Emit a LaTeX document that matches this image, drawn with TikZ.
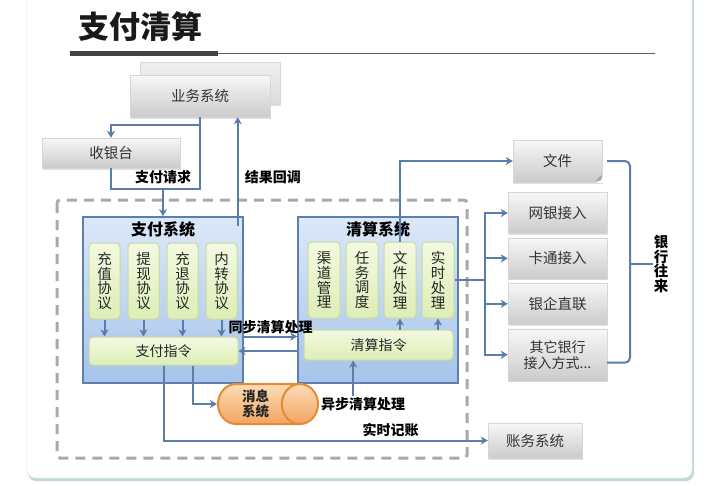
\documentclass[tikz,border=0pt]{standalone}
\usepackage{fontspec}
\setmainfont{Noto Sans CJK SC}
\usetikzlibrary{shapes.geometric, arrows.meta, positioning, shadows}
\definecolor{linkblue}{HTML}{5A7DAA}
\definecolor{systop}{HTML}{DCE8F8}
\definecolor{sysbot}{HTML}{A6C3EA}
\definecolor{sysline}{HTML}{5B80B0}
\definecolor{prototop}{HTML}{F3F9E2}
\definecolor{protobot}{HTML}{DDEEB6}
\definecolor{protoline}{HTML}{C7DC9E}
\definecolor{greytop}{HTML}{F7F7F7}
\definecolor{greybot}{HTML}{CBCBCB}
\definecolor{greyline}{HTML}{D6D6D6}
\definecolor{orangetop}{HTML}{FCDDB8}
\definecolor{orangebot}{HTML}{F2A460}
\definecolor{orangeline}{HTML}{E68A35}
\definecolor{dashgrey}{HTML}{A9A9A9}
\definecolor{titlebar}{HTML}{444444}
\definecolor{cardshadow}{HTML}{C3D8D8}

\begin{document}
\begin{tikzpicture}[
    x=1pt, y=-1pt,
    arrow/.style={-{Stealth[length=7pt,width=8pt,inset=2pt]}, line width=2pt, linkblue},
    line/.style={line width=2pt, linkblue},
    lbl/.style={font=\fontsize{14}{16}\selectfont\bfseries, text=black, inner sep=1pt},
    greybox/.style={rectangle, top color=greytop, bottom color=greybot, draw=greyline, text=black!80, font=\fontsize{14.5}{17}\selectfont, align=center, drop shadow={shadow xshift=1pt, shadow yshift=-1.5pt, opacity=.25}},
    sysbox/.style={rectangle, top color=systop, bottom color=sysbot, draw=sysline, line width=1.5pt, minimum width=160, minimum height=166},
    proto/.style={rectangle, rounded corners=4pt, top color=prototop, bottom color=protobot, draw=protoline, line width=1pt, inner sep=0pt, minimum width=31, minimum height=76, align=center, text=black!85, font=\fontsize{14.5}{14.8}\selectfont},
    cmdbox/.style={rectangle, rounded corners=4pt, top color=prototop, bottom color=protobot, draw=protoline, line width=1pt, text=black!85, font=\fontsize{14}{16}\selectfont},
    queue/.style={cylinder, aspect=1.2, draw=orangeline, line width=2pt, top color=orangetop, bottom color=orangebot, minimum width=40, minimum height=100, inner sep=1pt, align=center, text=black!85, font=\fontsize{13.5}{15}\selectfont\bfseries},
    frame/.style={dashgrey, line width=3pt, dash pattern=on 10pt off 7pt, rounded corners=3pt}
]
\useasboundingbox (0,0) rectangle (709,485);

% card
\fill[cardshadow, rounded corners=8] (28,-10) rectangle (694,481);
\filldraw[fill=white, draw=black!12, rounded corners=8] (27,-10) rectangle (692,478);

% title
\node[font=\fontsize{31}{33}\selectfont\bfseries, text=black!90] (title) at (140,27) {支付清算};
\draw[line width=5pt, titlebar] (70,53) -- (218,53);
\draw[line width=1pt, titlebar!85] (218,53) -- (655,53);

\draw[frame] (57,200) rectangle (467,458);

% outside systems
\node[greybox, top color=black!6, bottom color=black!14, minimum width=140, minimum height=42] (bizcopy) at (210,83) {};
\node[greybox, minimum width=140, minimum height=42] (biz) at (200,96) {业务系统};
\node[greybox, minimum width=138, minimum height=30] (cashier) at (111,153) {收银台};

% payment system
\node[sysbox, label={[anchor=north, yshift=-2pt, font=\fontsize{16}{18}\selectfont\bfseries]north:支付系统}] (paysys) at (163,300) {};
\node[proto] (recharge) at (104.5,281) {充\\值\\协\\议};
\node[proto, right=7pt of recharge] (withdraw) {提\\现\\协\\议};
\node[proto, right=7pt of withdraw] (refund) {充\\退\\协\\议};
\node[proto, right=7pt of refund] (transfer) {内\\转\\协\\议};
\node[cmdbox, minimum width=149, minimum height=28] (paycmd) at (163.5,351) {支付指令};

% clearing system
\node[sysbox, label={[anchor=north, yshift=-2pt, font=\fontsize{16}{18}\selectfont\bfseries]north:清算系统}] (clrsys) at (378,300) {};
\node[proto, minimum width=32] (channel) at (324,280) {渠\\道\\管\\理};
\node[proto, minimum width=32, right=5pt of channel] (sched) {任\\务\\调\\度};
\node[proto, minimum width=32, right=5pt of sched] (fileproc) {文\\件\\处\\理};
\node[proto, minimum width=32, right=5pt of fileproc] (rtproc) {实\\时\\处\\理};
\node[cmdbox, minimum width=149, minimum height=30] (clrcmd) at (378.5,345) {清算指令};

\node[queue, anchor=west] (msg) at (217,404) {消息\\系统};
\node[lbl, right=1pt of msg] (asynclbl) {异步清算处理};
\node[greybox, minimum width=94, minimum height=35] (acct) at (535,440.5) {账务系统};

% bank side
\node[greybox, minimum width=89, minimum height=42] (file) at (557.5,161) {文件};
\fill[white] ([xshift=-8pt]file.south east) -- ([xshift=1pt,yshift=-1pt]file.south east) -- ([yshift=8pt]file.south east) -- cycle;
\fill[black!35] ([xshift=-8pt]file.south east) -- ([xshift=-1pt,yshift=2pt]file.south east) -- ([yshift=8pt]file.south east) -- cycle;
\node[greybox, minimum width=99, minimum height=41] (ebank) at (557.5,213) {网银接入};
\node[greybox, minimum width=99, minimum height=41, below=4pt of ebank] (card) {卡通接入};
\node[greybox, minimum width=99, minimum height=41, below=4pt of card] (corp) {银企直联};
\node[greybox, minimum width=99, minimum height=52, below=4pt of corp, font=\fontsize{14}{16}\selectfont] (other) {其它银行\\接入方式...};
\node[lbl, align=center, font=\fontsize{14.5}{14.5}\selectfont\bfseries] (bank) at (661,264) {银\\行\\往\\来};

% connectors
\coordinate (req) at ([yshift=27pt]paysys.north);
\draw[arrow] (biz.south) -- ++(0,8) -| (cashier.north);
\draw[line] (cashier.south) |- (req) -| (biz.south);
\node[lbl, above=4pt of req] (reqlbl) {支付请求};
\draw[arrow] (req) -- (paysys.north);
\coordinate (cb) at ([xshift=-6pt,yshift=-10pt]paysys.north east);
\draw[arrow] (cb) -- node[lbl, right=5pt, pos=.45] {结果回调} (cb |- biz.south);

\foreach \p in {recharge,withdraw,refund,transfer}
  \draw[arrow] (\p.south) -- (\p.south |- paycmd.north);
\foreach \p in {fileproc,rtproc}
  \draw[arrow] (\p.south |- clrcmd.north) -- (\p.south);

\draw[arrow] (paysys.east |- paycmd.north) -- node[lbl, above=1pt] {同步清算处理} (clrsys.west |- paycmd.north);
\draw[arrow] (clrsys.west |- paycmd.east) -- (paycmd.east);

\draw[arrow] ([xshift=29pt]paycmd.south) |- (msg.west);
\draw[arrow] ([xshift=-10pt]asynclbl.north) -- ([xshift=-10pt]asynclbl.north |- clrcmd.south);
\draw[arrow] (paycmd.south) |- node[lbl, above=2pt, pos=.85] {实时记账} (acct.west);

\draw[arrow] (fileproc.north) |- (file.west);
\foreach \b in {ebank,card,corp,other}
  \draw[arrow] (rtproc.east) -- ++(30,0) |- (\b.west);

\coordinate (brk) at (630,264);
\draw[line, rounded corners=5pt] ([xshift=5pt]file.east) -| (brk) |- ([yshift=-8pt]other.east);
\draw[line] (brk) -- (bank.west);

\end{tikzpicture}
\end{document}
